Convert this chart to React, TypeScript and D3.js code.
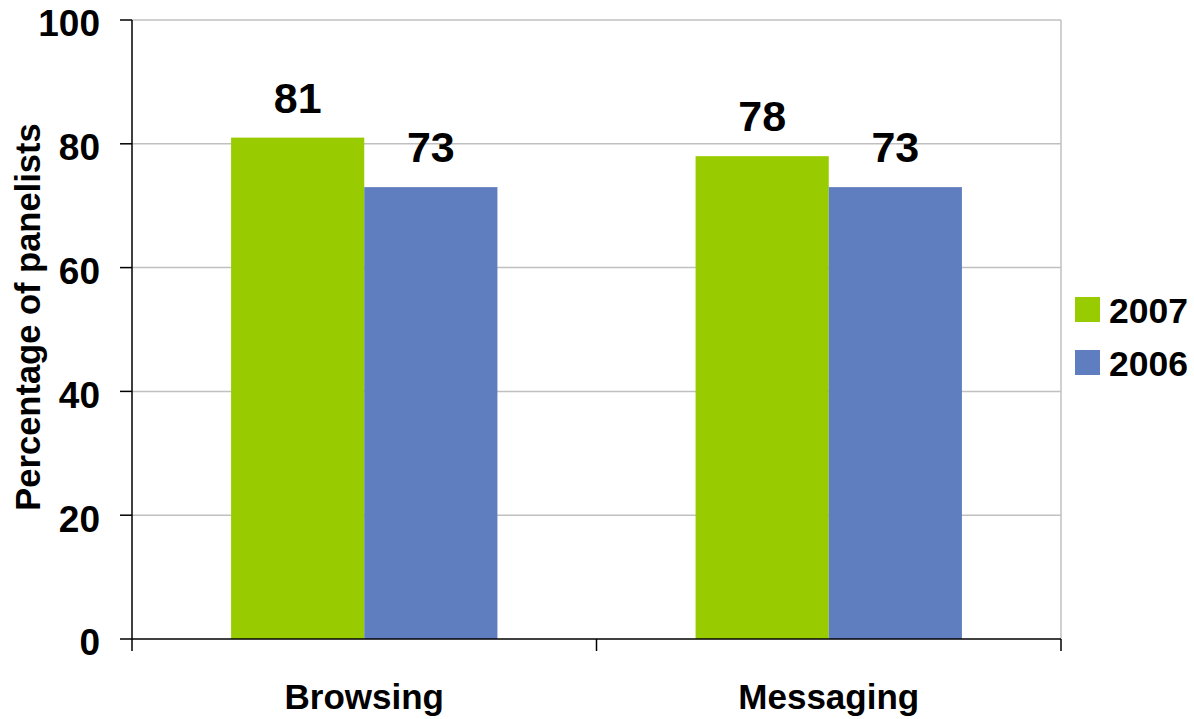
import React from "react";
import * as d3 from "d3";

const categories = ["Browsing", "Messaging"];
const seriesNames = ["2007", "2006"];
const values2007 = [81, 78];
const values2006 = [73, 73];
const yTicks = [0, 20, 40, 60, 80, 100];
const colors = ["#99cc00", "#5f7ebf"];

export default function App() {
  const W = 1194, H = 719;
  const left = 132, right = 1061, top = 20, bottom = 639;
  const font = "'Liberation Sans', Arial, sans-serif";
  const y = d3.scaleLinear().domain([0, 100]).range([bottom, top]);
  const x0 = d3.scaleBand().domain(categories).range([left, right]).padding(0);
  const x1 = d3.scaleBand().domain(seriesNames).range([0, x0.bandwidth()]).paddingInner(0).paddingOuter(0.744);
  const series = [values2007, values2006];
  return (
    <svg width={W} height={H} style={{ position: "absolute", left: 0, top: 0, background: "#fff" }} fontFamily={font}>
      {yTicks.filter(t => t > 0).map(t => (
        <line key={"g" + t} x1={left} x2={right} y1={y(t)} y2={y(t)} stroke="#c0c0c0" strokeWidth={1.5} />
      ))}
      <line x1={right} x2={right} y1={top} y2={bottom} stroke="#c0c0c0" strokeWidth={1.5} />
      {categories.map((c, ci) =>
        seriesNames.map((s, si) => {
          const v = series[si][ci];
          const bx = (x0(c) as number) + (x1(s) as number);
          return (
            <g key={c + s}>
              <rect x={bx} y={y(v)} width={x1.bandwidth()} height={y(0) - y(v)} fill={colors[si]} />
              <text x={bx + x1.bandwidth() / 2} y={y(v) - 25} textAnchor="middle" fontSize={43} fontWeight="bold">{v}</text>
            </g>
          );
        })
      )}
      <line x1={left} x2={left} y1={top} y2={bottom} stroke="#000" strokeWidth={1.5} />
      <line x1={left} x2={right} y1={bottom} y2={bottom} stroke="#000" strokeWidth={1.5} />
      {yTicks.map(t => (
        <g key={"t" + t}>
          <line x1={left - 12} x2={left} y1={y(t)} y2={y(t)} stroke="#000" strokeWidth={1.5} />
          <text x={100} y={y(t) + 3} dy="0.36em" textAnchor="end" fontSize={37} fontWeight="bold">{t}</text>
        </g>
      ))}
      {[...categories.map(c => x0(c) as number), right].map((xv, i) => (
        <line key={"xt" + i} x1={xv} x2={xv} y1={bottom} y2={bottom + 12} stroke="#000" strokeWidth={1.5} />
      ))}
      {categories.map(c => (
        <text key={"c" + c} x={(x0(c) as number) + x0.bandwidth() / 2} y={709} textAnchor="middle" fontSize={35} fontWeight="bold">{c}</text>
      ))}
      <text transform={`translate(40, 317) rotate(-90)`} textAnchor="middle" fontSize={34.5} fontWeight="bold">Percentage of panelists</text>
      {seriesNames.map((s, i) => (
        <g key={"l" + s}>
          <rect x={1075} y={297 + i * 53} width={25} height={25} fill={colors[i]} />
          <text x={1109} y={323 + i * 53} fontSize={35.5} fontWeight="bold">{s}</text>
        </g>
      ))}
    </svg>
  );
}
